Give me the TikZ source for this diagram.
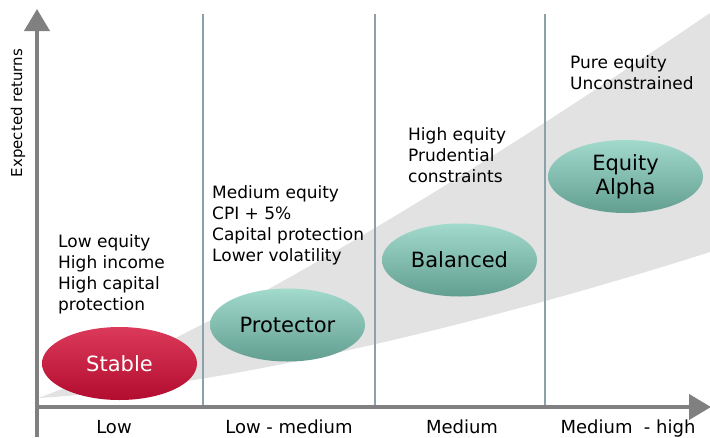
\documentclass[tikz,border=0pt]{standalone}
\usepackage{fontspec}
\setmainfont{DejaVu Sans}
\usepackage{tikz}
\usetikzlibrary{shapes.geometric,arrows.meta}

\definecolor{axiscol}{HTML}{808080}
\definecolor{divcol}{HTML}{8CA0AA}
\definecolor{bandcol}{HTML}{E2E2E2}
\definecolor{redtop}{HTML}{DC3A5A}
\definecolor{redmid}{HTML}{C8133A}
\definecolor{redbot}{HTML}{B20C2E}
\definecolor{tealtop}{HTML}{A2DACC}
\definecolor{tealmid}{HTML}{7CC0B0}
\definecolor{tealbot}{HTML}{629F91}

\newcommand{\notefont}{\fontsize{17}{21}\selectfont}
\newcommand{\fundfont}{\fontsize{21}{24}\selectfont}

\tikzset{
  axis/.style={draw=axiscol, line width=4pt, -{Triangle[length=22pt, width=25pt]}},
  divider/.style={draw=divcol, line width=1.4pt},
  fund/.style={ellipse, minimum width=155pt, minimum height=73pt, inner sep=0pt,
    align=center, font=\fundfont},
  redfund/.style={fund, top color=redtop, middle color=redmid, bottom color=redbot, text=white},
  tealfund/.style={fund, top color=tealtop, middle color=tealmid, bottom color=tealbot, text=black},
  note/.style={anchor=north west, align=left, inner sep=0pt, font=\notefont},
  risk/.style={anchor=base, inner sep=0pt, font=\fontsize{18}{21}\selectfont},
}

\begin{document}
\begin{tikzpicture}[x=1pt, y=-1pt]

    \useasboundingbox (0, 0) rectangle (710, 437);

    % band of expected returns
    \fill[bandcol] (38, 398) .. controls (200, 340) and (450, 190) .. (710, 13)
        -- (710, 252) .. controls (560, 300) and (260, 385) .. (38, 398) -- cycle;

    % column borders
    \draw[divider] (203, 14) -- (203, 407);
    \draw[divider] (375, 14) -- (375, 407);
    \draw[divider] (545, 14) -- (545, 407);

    % axes
    \coordinate (origin) at (37, 407);
    \coordinate (ytop) at (37, 9);
    \coordinate (ybot) at (37, 437);
    \coordinate (xend) at (711, 407);
    \draw[axis] (ybot) -- (ytop);
    \draw[axis] (origin) -- (xend);

    \node[rotate=90, font=\fontsize{15}{17}\selectfont] (ylabel) at (18, 113) {Expected returns};

    % risk levels
    \node[risk] (xlow) at (114, 433) {Low};
    \node[risk] (xlowmed) at (289, 433) {Low - medium};
    \node[risk] (xmed) at (462, 433) {Medium};
    \node[risk] (xmedhigh) at (628, 433) {Medium\ \ - high};

    % funds
    \node[redfund] (stable) at (119.5, 363.5) {Stable};
    \node[tealfund] (protector) at (287.5, 325) {Protector};
    \node[tealfund] (balanced) at (459.5, 260) {Balanced};
    \node[tealfund] (alpha) at (625.5, 176.5) {Equity\\Alpha};

    % descriptions
    \node[note] (stablenote) at (58, 234) {Low equity\\High income\\High capital\\protection};
    \node[note] (protectornote) at (212, 185) {Medium equity\\CPI + 5\%\\Capital protection\\Lower volatility};
    \node[note] (balancednote) at (408, 127) {High equity\\Prudential\\constraints};
    \node[note] (alphanote) at (570, 55) {Pure equity\\Unconstrained};

  \end{tikzpicture}
\end{document}
